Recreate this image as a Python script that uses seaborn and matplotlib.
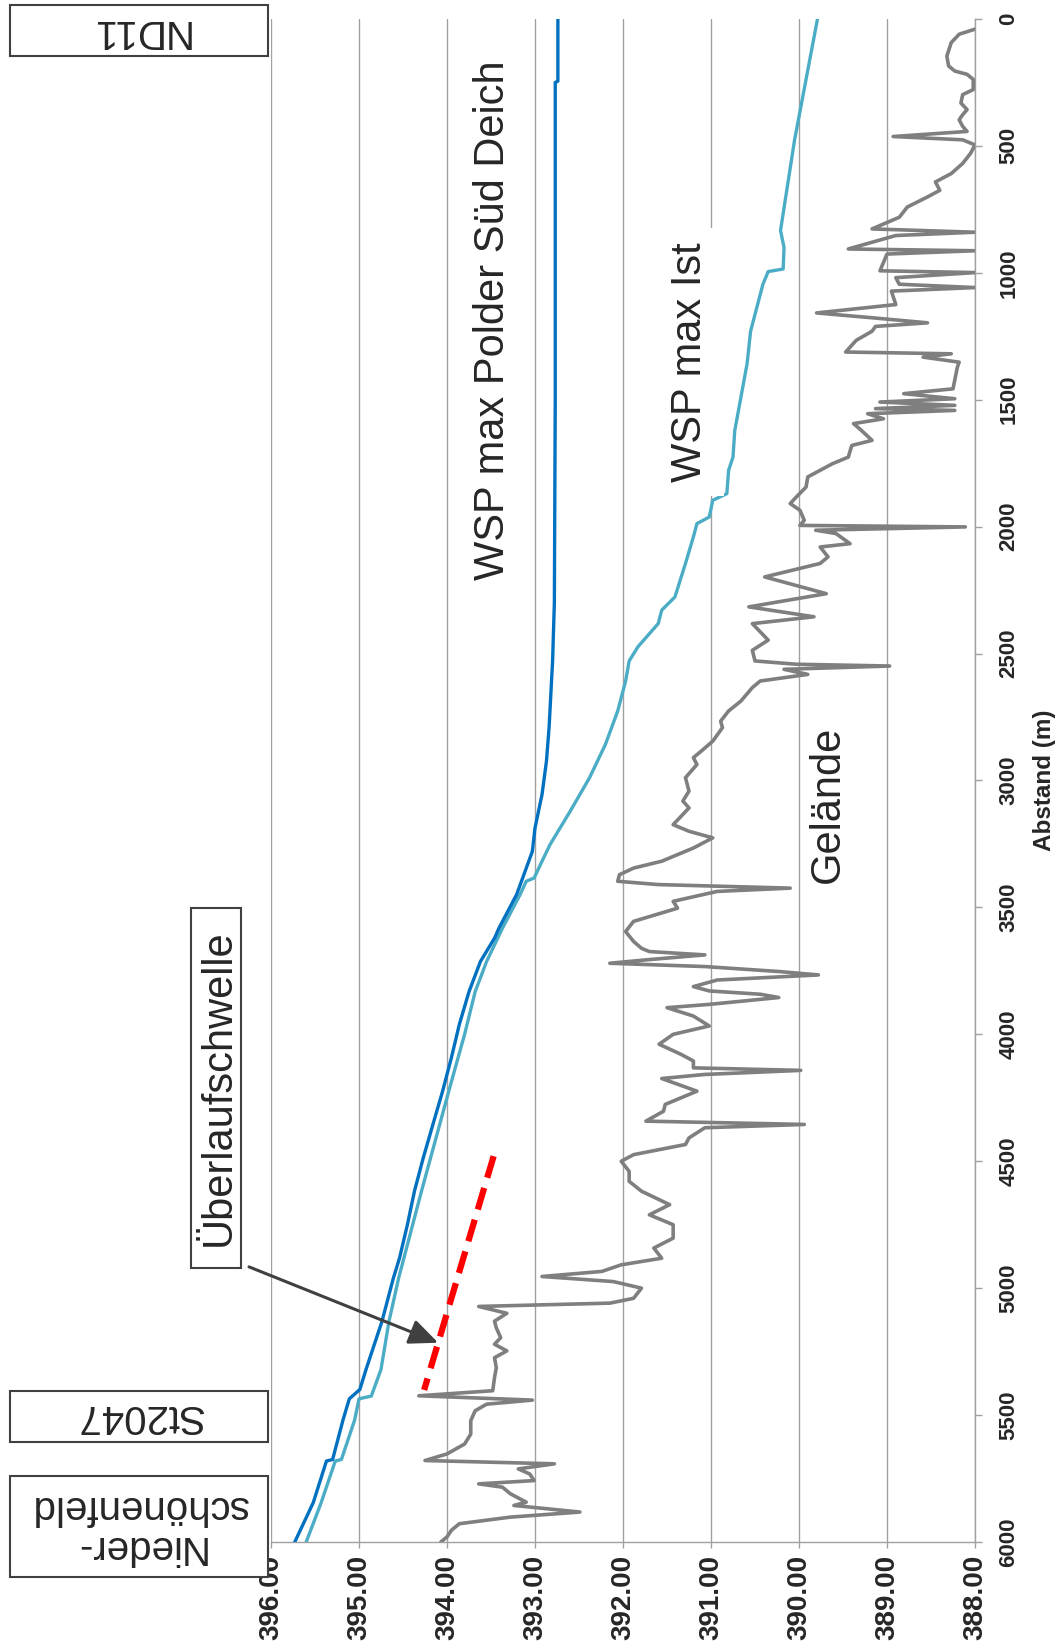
import numpy as np
import pandas as pd
import matplotlib
matplotlib.use("Agg")
import matplotlib.pyplot as plt
import seaborn as sns
from matplotlib.patches import Rectangle

# ---------------- data ----------------
gelaende_dist = [40, 60, 93, 146, 185, 205, 218, 238, 278, 298, 331, 357, 377, 397, 423, 443,
                 463, 476, 496, 529, 569, 609, 642, 675, 701, 741, 781, 827, 840, 853, 906, 913,
                 926, 992, 999, 1019, 1045, 1058, 1072, 1125, 1158, 1177, 1197, 1211, 1230, 1266,
                 1312, 1319, 1332, 1352, 1371, 1457, 1476, 1496, 1509, 1522, 1535, 1542, 1555, 1575,
                 1594, 1621, 1660, 1680, 1726, 1752, 1804, 1844, 1883, 1909, 1935, 1975, 1995, 2001,
                 2014, 2027, 2067, 2080, 2119, 2145, 2198, 2264, 2316, 2355, 2382, 2447, 2487, 2529,
                 2542, 2549, 2562, 2582, 2608, 2634, 2687, 2726, 2766, 2792, 2845, 2884, 2910, 2937,
                 2989, 3042, 3081, 3108, 3174, 3200, 3226, 3266, 3318, 3345, 3371, 3397, 3410, 3424,
                 3437, 3476, 3503, 3555, 3595, 3634, 3661, 3674, 3687, 3707, 3720, 3733, 3753, 3766,
                 3786, 3812, 3829, 3842, 3855, 3882, 3895, 3928, 3967, 4000, 4039, 4079, 4105, 4132,
                 4142, 4158, 4174, 4224, 4276, 4303, 4342, 4355, 4368, 4408, 4434, 4474, 4500, 4540,
                 4579, 4618, 4671, 4711, 4750, 4803, 4842, 4882, 4908, 4934, 4954, 4974, 5000, 5040,
                 5059, 5072, 5099, 5130, 5156, 5195, 5221, 5247, 5274, 5313, 5352, 5404, 5424, 5441,
                 5457, 5483, 5522, 5575, 5614, 5653, 5679, 5692, 5712, 5732, 5758, 5771, 5784, 5810,
                 5843, 5856, 5882, 5902, 5928, 5954, 5980, 6000]
gelaende_elev = [388.00, 388.18, 388.27, 388.32, 388.30, 388.23, 388.09, 388.02, 388.02, 388.14,
                 388.16, 388.09, 388.14, 388.18, 388.14, 388.09, 388.93, 388.14, 388.00, 388.05,
                 388.14, 388.27, 388.45, 388.40, 388.54, 388.77, 388.86, 389.17, 388.00, 388.90,
                 389.44, 388.00, 389.00, 389.08, 388.00, 388.90, 388.86, 388.00, 388.95, 388.90,
                 389.80, 389.17, 388.54, 389.13, 389.17, 389.35, 389.47, 388.27, 388.59, 388.18,
                 388.20, 388.25, 388.81, 388.23, 389.08, 388.23, 389.13, 388.23, 389.22, 389.04,
                 389.38, 389.29, 389.17, 389.40, 389.44, 389.62, 389.90, 389.92, 390.03, 390.10,
                 389.99, 389.94, 389.99, 388.11, 389.81, 389.58, 389.42, 389.76, 389.67, 389.76,
                 390.39, 389.69, 390.57, 389.83, 390.53, 390.35, 390.53, 390.50, 390.03, 388.97,
                 390.17, 389.90, 390.44, 390.53, 390.66, 390.80, 390.89, 390.87, 390.98, 391.11,
                 391.20, 391.16, 391.29, 391.25, 391.32, 391.25, 391.43, 391.25, 390.98, 391.20,
                 391.56, 391.88, 392.04, 392.06, 391.60, 390.10, 390.93, 391.43, 391.38, 391.88,
                 391.97, 391.88, 391.79, 391.70, 391.07, 391.75, 392.15, 391.07, 390.21, 389.78,
                 390.93, 391.20, 391.02, 390.44, 390.23, 391.02, 391.50, 391.20, 391.02, 391.43,
                 391.59, 391.34, 391.20, 391.20, 389.98, 391.07, 391.56, 391.16, 391.52, 391.54,
                 391.74, 389.94, 391.07, 391.25, 391.29, 391.88, 392.02, 391.93, 391.93, 391.79,
                 391.47, 391.70, 391.43, 391.43, 391.65, 391.56, 392.02, 392.24, 392.92, 392.11,
                 391.79, 391.88, 392.15, 393.64, 393.32, 393.46, 393.44, 393.39, 393.46, 393.32,
                 393.46, 393.44, 393.46, 393.48, 394.32, 393.03, 393.55, 393.68, 393.73, 393.73,
                 393.80, 394.00, 394.25, 392.78, 393.19, 393.06, 393.01, 393.64, 393.37, 393.28,
                 393.10, 393.24, 392.49, 393.28, 393.86, 393.95, 394.00, 394.07]

polder_dist = [0, 245, 250, 1500, 2300, 2529, 2660, 2792, 2924, 3055, 3121, 3187, 3279, 3384,
               3450, 3582, 3621, 3713, 3832, 3961, 4092, 4224, 4355, 4487, 4618, 4750, 4882,
               4961, 5132, 5320, 5399, 5436, 5517, 5675, 5681, 5845, 6000]
polder_elev = [392.74, 392.74, 392.77, 392.77, 392.78, 392.80, 392.82, 392.84, 392.87, 392.92,
               392.96, 393.00, 393.03, 393.14, 393.21, 393.41, 393.46, 393.62, 393.75, 393.86,
               393.95, 394.05, 394.16, 394.27, 394.37, 394.45, 394.54, 394.61, 394.74, 394.92,
               394.99, 395.11, 395.18, 395.30, 395.37, 395.52, 395.73]

ist_dist = [0, 476, 833, 900, 985, 995, 1045, 1230, 1358, 1490, 1621, 1726, 1778, 1870, 1896,
            1962, 1988, 2040, 2145, 2277, 2329, 2382, 2473, 2529, 2608, 2726, 2858, 2989, 3121,
            3253, 3318, 3384, 3397, 3450, 3582, 3713, 3832, 4000, 4224, 4618, 4961, 5132, 5320,
            5425, 5436, 5520, 5675, 5681, 5845, 6000]
ist_elev = [389.79, 390.05, 390.21, 390.17, 390.18, 390.35, 390.41, 390.55, 390.59, 390.66,
            390.73, 390.75, 390.80, 390.82, 390.98, 391.02, 391.16, 391.20, 391.29, 391.41,
            391.56, 391.60, 391.83, 391.93, 391.97, 392.06, 392.20, 392.38, 392.60, 392.83,
            392.92, 393.01, 393.10, 393.17, 393.37, 393.55, 393.68, 393.80, 393.98, 394.29,
            394.55, 394.66, 394.75, 394.86, 395.00, 395.05, 395.20, 395.27, 395.43, 395.60]

schwelle_dist = [4480, 5401]
schwelle_elev = [393.47, 394.26]

elev_ticks = [396, 395, 394, 393, 392, 391, 390, 389, 388]
elev_tick_labels = ["396.00", "395.00", "394.00", "393.00", "392.00", "391.00", "390.00",
                    "389.00", "388.00"]
dist_ticks = [0, 500, 1000, 1500, 2000, 2500, 3000, 3500, 4000, 4500, 5000, 5500, 6000]
dist_tick_labels = [str(v) for v in dist_ticks]

# ---------------- style ----------------
sns.set_style("white")
plt.rcParams["font.family"] = ["Liberation Sans", "DejaVu Sans"]

W, H = 1062, 1647
fig = plt.figure(figsize=(W / 100, H / 100), dpi=100)
L, R, T, B = 271, 975, 19, 1542
ax = fig.add_axes([L / W, 1 - B / H, (R - L) / W, (B - T) / H])

grid_c = "#A0A0A0"

df_gel = pd.DataFrame({"dist": gelaende_dist, "elev": gelaende_elev})
df_pol = pd.DataFrame({"dist": polder_dist, "elev": polder_elev})
df_ist = pd.DataFrame({"dist": ist_dist, "elev": ist_elev})
df_sch = pd.DataFrame({"dist": schwelle_dist, "elev": schwelle_elev})

sns.lineplot(data=df_gel, x="elev", y="dist", sort=False, estimator=None,
             color="#7F7F7F", lw=2.6, ax=ax, zorder=3)
sns.lineplot(data=df_ist, x="elev", y="dist", sort=False, estimator=None,
             color="#4BACC6", lw=2.4, ax=ax, zorder=4)
sns.lineplot(data=df_pol, x="elev", y="dist", sort=False, estimator=None,
             color="#0070C0", lw=2.4, ax=ax, zorder=5)
sns.lineplot(data=df_sch, x="elev", y="dist", sort=False, estimator=None,
             color="#FF0000", lw=4.5, linestyle=(0, (3.6, 1.7)), ax=ax, zorder=6)

ax.set_xlim(396, 388)
ax.set_ylim(6000, 0)

ax.set_xticks(elev_ticks)
ax.set_xticklabels(elev_tick_labels, rotation=90, fontweight="bold", fontsize=20)
ax.set_yticks(dist_ticks)
ax.set_yticklabels(dist_tick_labels, rotation=90, fontweight="bold", fontsize=16, va="center")
ax.yaxis.tick_right()
ax.yaxis.set_label_position("right")
ax.tick_params(axis="x", direction="out", length=4, width=1, color=grid_c, pad=5,
               bottom=True, top=False)
ax.tick_params(axis="y", direction="out", length=5, width=1, color=grid_c, pad=12,
               right=True, left=False)

ax.grid(axis="x", color=grid_c, lw=1.0, zorder=0)
ax.grid(axis="y", visible=False)
ax.set_axisbelow(True)

for s in ["top", "left"]:
    ax.spines[s].set_visible(False)
for s in ["bottom", "right"]:
    ax.spines[s].set_visible(True)
    ax.spines[s].set_color(grid_c)
    ax.spines[s].set_linewidth(1.0)

ax.set_xlabel("")
ax.set_ylabel("Abstand (m)", fontweight="bold", fontsize=17.5, rotation=90, labelpad=10)

# ---------------- line labels ----------------
ax.text(393.48, 1185, "WSP max Polder Süd Deich", rotation=90, ha="center", va="center",
        fontsize=30, zorder=7)
ax.text(391.24, 1351, "WSP max Ist", rotation=90, ha="center", va="center", fontsize=30,
        zorder=7, bbox=dict(boxstyle="square,pad=0.35", fc="white", ec="none"))
ax.text(389.67, 3095, "Gelände", rotation=90, ha="center", va="center", fontsize=30, zorder=7)

# arrow to the overflow sill
ax.annotate("", xy=(394.10, 5215), xytext=(396.25, 4916), xycoords="data", textcoords="data",
            annotation_clip=False,
            arrowprops=dict(arrowstyle="-|>,head_length=0.8,head_width=0.35", color="#404040",
                            lw=2.2, mutation_scale=22, shrinkA=0, shrinkB=0), zorder=8)

# ---------------- boxed labels ----------------
def fig_box(x0, y0, x1, y1):
    fig.add_artist(Rectangle((x0 / W, 1 - y1 / H), (x1 - x0) / W, (y1 - y0) / H,
                             transform=fig.transFigure, facecolor="white",
                             edgecolor="#404040", lw=1.5, zorder=9))

fig_box(10, 5, 268, 56)
fig.text(139 / W, 1 - 30.5 / H, "ND11", rotation=180, ha="center", va="center",
         fontsize=29, zorder=10)
fig_box(10, 1391, 268, 1442)
fig.text(139 / W, 1 - 1416 / H, "St2047", rotation=180, ha="center", va="center",
         fontsize=29, zorder=10)
fig_box(10, 1476, 268, 1577)
fig.text(139 / W, 1 - 1527 / H, "Nieder-\nschönenfeld", rotation=180, ha="center",
         va="center", multialignment="center", fontsize=29, linespacing=1.05, zorder=10)
fig_box(191, 908, 241, 1268)
fig.text(219 / W, 1 - 1088 / H, "Überlaufschwelle", rotation=90, ha="center", va="center",
         fontsize=30, zorder=10)

fig.savefig("out.png", dpi=100)
